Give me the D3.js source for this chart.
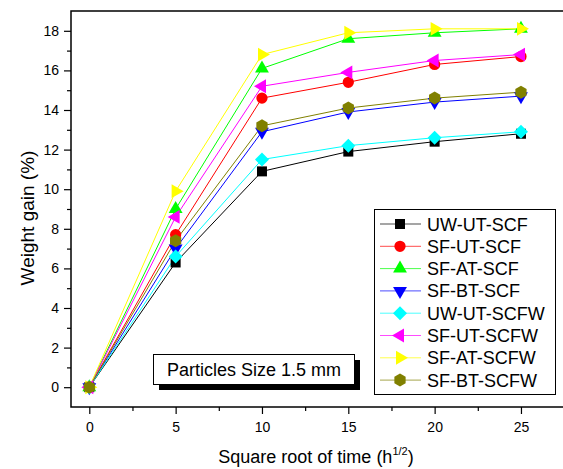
<!DOCTYPE html>
<html>
<head>
<meta charset="utf-8">
<script src="https://cdn.jsdelivr.net/npm/d3@7"></script>
<style>
  body { margin: 0; background: #fff; }
  svg { display: block; font-family: "Liberation Sans", Arial, sans-serif; }
</style>
</head>
<body>
<div id="chart"></div>
<script>
// data
const times = [0, 5, 10, 15, 20, 25];
const seriesNames = ["UW-UT-SCF", "SF-UT-SCF", "SF-AT-SCF", "SF-BT-SCF",
                     "UW-UT-SCFW", "SF-UT-SCFW", "SF-AT-SCFW", "SF-BT-SCFW"];
const uwUtScf   = [0, 6.3, 10.9, 11.9, 12.4, 12.8];
const sfUtScf   = [0, 7.7, 14.6, 15.4, 16.3, 16.7];
const sfAtScf   = [0, 9.0, 16.1, 17.6, 17.9, 18.1];
const sfBtScf   = [0, 7.0, 12.9, 13.9, 14.4, 14.7];
const uwUtScfw  = [0, 6.6, 11.5, 12.2, 12.6, 12.9];
const sfUtScfw  = [0, 8.6, 15.2, 15.9, 16.5, 16.8];
const sfAtScfw  = [0, 9.9, 16.8, 17.9, 18.1, 18.1];
const sfBtScfw  = [0, 7.4, 13.2, 14.1, 14.6, 14.9];
const allValues = [uwUtScf, sfUtScf, sfAtScf, sfBtScf, uwUtScfw, sfUtScfw, sfAtScfw, sfBtScfw];

const yTicks = [0, 2, 4, 6, 8, 10, 12, 14, 16, 18];
const xTicks = [0, 5, 10, 15, 20, 25];

const colors = ["#000000", "#ff0000", "#00ff00", "#0000ff", "#00ffff", "#ff00ff", "#ffff00", "#808000"];
const shapes = ["square", "circle", "up", "down", "diamond", "left", "right", "hexagon"];

// marker paths
function tri(r, angle) {
  const pts = [0, 1, 2].map(i => {
    const a = (angle + i * 120) * Math.PI / 180;
    return [r * Math.cos(a), r * Math.sin(a)];
  });
  return "M" + pts.map(p => p.join(",")).join("L") + "Z";
}
function markerPath(shape) {
  switch (shape) {
    case "square": return "M-5,-5L5,-5L5,5L-5,5Z";
    case "circle": return d3.symbol(d3.symbolCircle, 100)();
    case "up": return tri(8, -90);
    case "down": return tri(8, 90);
    case "left": return tri(8, 180);
    case "right": return tri(8, 0);
    case "diamond": return "M0,-7L7,0L0,7L-7,0Z";
    case "hexagon": {
      const pts = d3.range(6).map(i => {
        const a = (i * 60 - 90) * Math.PI / 180;
        return [6.5 * Math.cos(a), 6.5 * Math.sin(a)];
      });
      return "M" + pts.map(p => p.join(",")).join("L") + "Z";
    }
  }
}

const width = 563, height = 469;
const plotLeft = 71, plotRight = 565, plotTop = 11, plotBottom = 407;

const svg = d3.select("#chart").append("svg")
  .attr("width", width).attr("height", height);

const x = d3.scaleLinear().domain([-1.06, 27.55]).range([plotLeft, plotRight]);
const y = d3.scaleLinear().domain([-1, 19]).range([plotBottom, plotTop]);

// frame
svg.append("rect")
  .attr("x", plotLeft).attr("y", plotTop)
  .attr("width", plotRight - plotLeft).attr("height", plotBottom - plotTop)
  .attr("fill", "none").attr("stroke", "#000").attr("stroke-width", 1.5);

// y axis ticks
const yAxis = svg.append("g").attr("transform", `translate(${plotLeft},0)`)
  .call(d3.axisLeft(y).tickValues(yTicks).tickSize(7).tickSizeOuter(0).tickPadding(5));
yAxis.select(".domain").remove();
yAxis.selectAll("text").attr("font-size", 14).attr("font-family", "Liberation Sans, Arial");
yAxis.selectAll("line").attr("stroke-width", 1.2);
svg.append("g").attr("transform", `translate(${plotLeft},0)`)
  .call(d3.axisLeft(y).tickValues(d3.range(1, 19, 2)).tickSize(4).tickFormat(""))
  .call(g => g.select(".domain").remove())
  .selectAll("line").attr("stroke-width", 1.2);

// x axis ticks
const xAxis = svg.append("g").attr("transform", `translate(0,${plotBottom})`)
  .call(d3.axisBottom(x).tickValues(xTicks).tickSize(7).tickSizeOuter(0).tickPadding(8));
xAxis.select(".domain").remove();
xAxis.selectAll("text").attr("font-size", 14).attr("font-family", "Liberation Sans, Arial");
xAxis.selectAll("line").attr("stroke-width", 1.2);
svg.append("g").attr("transform", `translate(0,${plotBottom})`)
  .call(d3.axisBottom(x).tickValues([2.5, 7.5, 12.5, 17.5, 22.5]).tickSize(4).tickFormat(""))
  .call(g => g.select(".domain").remove())
  .selectAll("line").attr("stroke-width", 1.2);

// axis titles
svg.append("text")
  .attr("transform", "translate(34,218) rotate(-90)")
  .attr("text-anchor", "middle").attr("font-size", 19)
  .text("Weight gain (%)");

const xt = svg.append("text")
  .attr("x", (plotLeft + plotRight) / 2 - 2).attr("y", 463)
  .attr("text-anchor", "middle").attr("font-size", 18);
xt.append("tspan").text("Square root of time (h");
xt.append("tspan").attr("font-size", 11).attr("dy", -8).text("1/2");
xt.append("tspan").attr("dy", 8).text(")");

// series
const line = d3.line().x((d, i) => x(times[i])).y(d => y(d));
const series = svg.append("g");
allValues.forEach((vals, k) => {
  series.append("path")
    .attr("d", line(vals))
    .attr("fill", "none").attr("stroke", colors[k]).attr("stroke-width", 1);
});
allValues.forEach((vals, k) => {
  series.append("g").selectAll("path")
    .data(vals).join("path")
    .attr("transform", (d, i) => `translate(${x(times[i])},${y(d)})`)
    .attr("d", markerPath(shapes[k]))
    .attr("fill", colors[k]);
});

// annotation box
svg.append("rect").attr("x", 159).attr("y", 360).attr("width", 201).attr("height", 30).attr("fill", "#000");
svg.append("rect").attr("x", 153.5).attr("y", 354.5).attr("width", 201).attr("height", 30)
  .attr("fill", "#fff").attr("stroke", "#000").attr("stroke-width", 1);
svg.append("text").attr("x", 254).attr("y", 376).attr("text-anchor", "middle")
  .attr("font-size", 18).text("Particles Size 1.5 mm");

// legend
const lg = svg.append("g");
lg.append("rect").attr("x", 374.5).attr("y", 209.5).attr("width", 181).attr("height", 185)
  .attr("fill", "#fff").attr("stroke", "#000").attr("stroke-width", 1);
seriesNames.forEach((name, k) => {
  const cy = 224 + k * 22.3;
  lg.append("line").attr("x1", 380).attr("x2", 421).attr("y1", cy).attr("y2", cy)
    .attr("stroke", colors[k]).attr("stroke-width", 1).attr("opacity", 0.7);
  lg.append("path").attr("transform", `translate(400,${cy})`)
    .attr("d", markerPath(shapes[k])).attr("fill", colors[k]);
  lg.append("text").attr("x", 427).attr("y", cy + 6.5).attr("font-size", 18).text(name);
});
</script>
</body>
</html>
